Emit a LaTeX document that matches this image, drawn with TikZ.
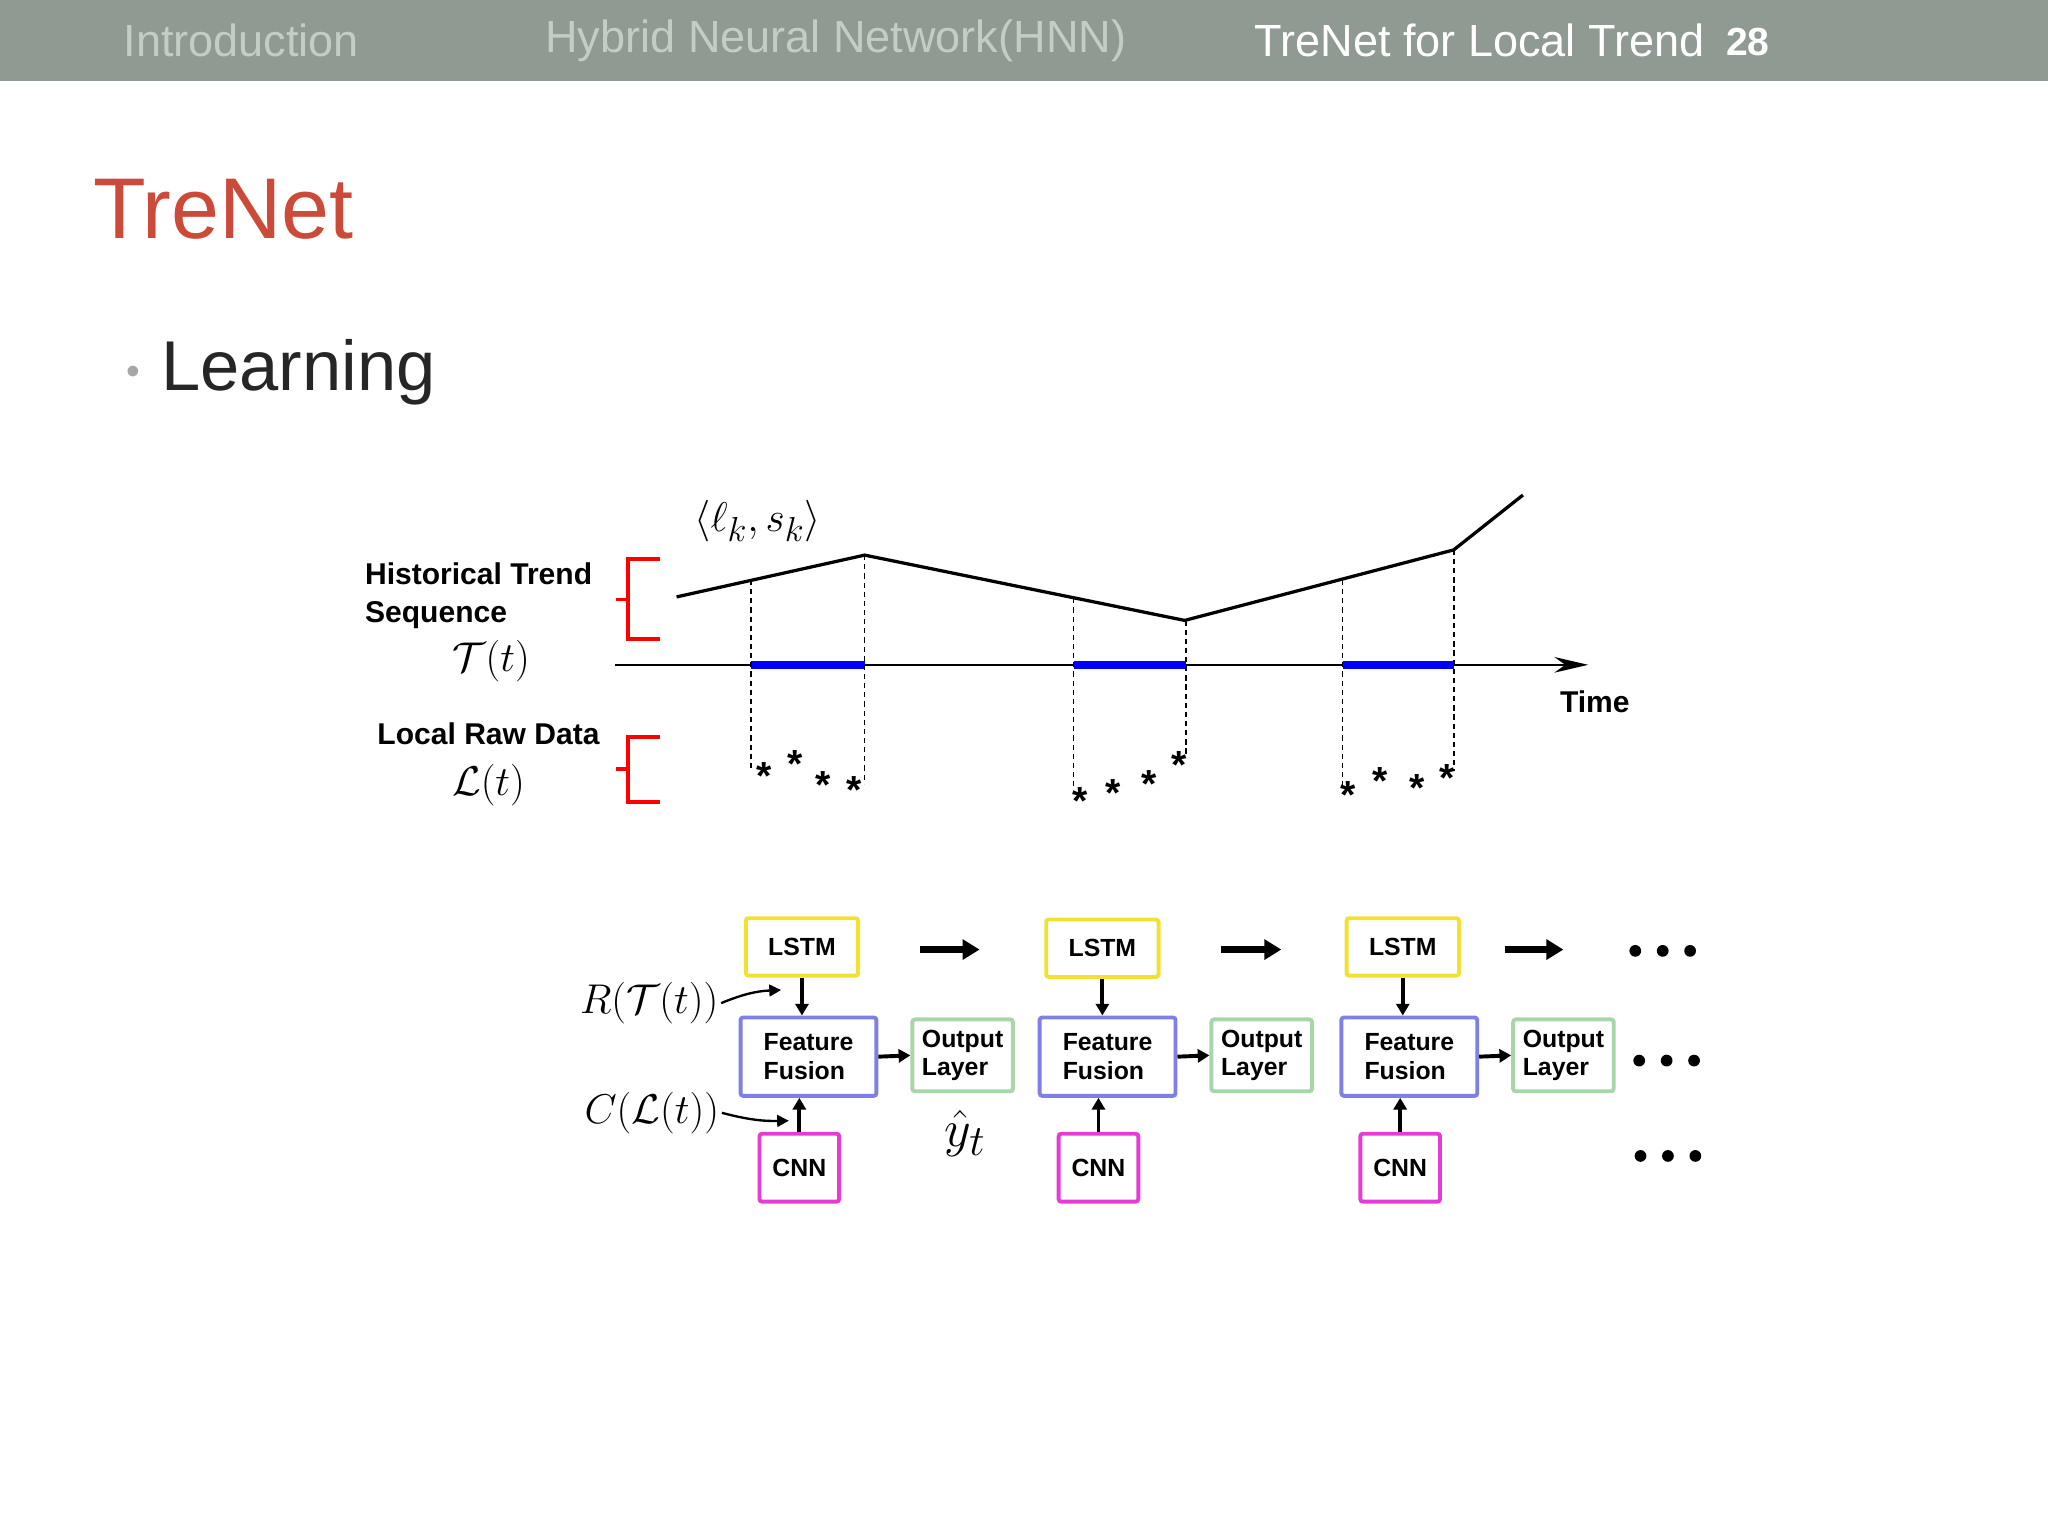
\documentclass[tikz,border=0pt]{standalone}
\usepackage{graphicx}
\usepackage{fontspec}
\setmainfont{Liberation Sans}
\usetikzlibrary{arrows.meta}
\definecolor{hdr}{HTML}{8E9A92}
\definecolor{hdrtxt}{HTML}{C4CCC6}
\definecolor{ttl}{HTML}{CC4A3A}
\definecolor{lstm}{HTML}{F2E033}
\definecolor{ff}{HTML}{7F7FE6}
\definecolor{outl}{HTML}{A9D6A9}
\definecolor{cnn}{HTML}{E63CD6}
\newcommand{\mymath}[2][1.28]{\scalebox{#1}{$#2$}}
\tikzset{
 lbl/.style={font=\fontsize{23}{26}\selectfont\bfseries, align=left},
 bx/.style={draw, line width=3pt, rounded corners=2pt, font=\fontsize{19}{22}\selectfont\bfseries, align=left, inner sep=0pt},
 lstmb/.style={bx, draw=lstm, minimum width=86pt, minimum height=44pt},
 ffb/.style={bx, draw=ff, minimum width=104pt, minimum height=60pt},
 outb/.style={bx, draw=outl, minimum width=77pt, minimum height=55pt},
 cnnb/.style={bx, draw=cnn, minimum width=61pt, minimum height=52pt},
 sa/.style={-{Triangle[length=9pt,width=10pt]}, line width=3pt},
 la/.style={-{Triangle[length=9pt,width=9pt]}, line width=1.8pt},
 ba/.style={-{Triangle[length=13pt,width=15pt]}, line width=5pt},
 dsh/.style={line width=1.2pt, dash pattern=on 4pt off 3pt},
 st/.style={font=\fontsize{30}{30}\selectfont\bfseries},
 brk/.style={red, line width=3pt},
 mth/.style={font=\fontsize{24.88}{30}\selectfont, inner sep=2pt},
 dot/.style={circle, fill, inner sep=0pt, minimum size=9pt}
}
\begin{document}
\begin{tikzpicture}[x=1pt,y=-1pt]
\useasboundingbox (0,0) rectangle (1568,1176);
\fill[hdr] (0,0) rectangle (1568,62);
\node[text=hdrtxt, font=\fontsize{34.5}{36}\selectfont, anchor=west] (h1) at (91,31) {Introduction};
\node[text=hdrtxt, font=\fontsize{34.5}{36}\selectfont, anchor=west] (h2) at (414,31) {Hybrid Neural Network(HNN)};
\node[text=white, font=\fontsize{34.5}{36}\selectfont, anchor=west] (h3) at (957,31) {TreNet for Local Trend};
\node[text=white, font=\fontsize{30}{32}\selectfont\bfseries, anchor=west] (h4) at (1318,32) {28};
\node[text=ttl, font=\fontsize{66}{70}\selectfont, anchor=west] (title) at (68,160) {TreNet};
\node[text=gray!70, font=\fontsize{30}{30}\selectfont] (bul) at (102,287) {•};
\node[text=black!85, font=\fontsize{54}{56}\selectfont, anchor=west] (learn) at (120,285) {Learning};

% trend line
\coordinate (p0) at (518,457); \coordinate (p1) at (662,425); \coordinate (p2) at (907,475);
\coordinate (p3) at (1113,421); \coordinate (p4) at (1166,379);
\draw[line width=2.5pt] (p0)--(p1)--(p2)--(p3)--(p4);
\coordinate (a0) at (471,509); \coordinate (a1) at (1216,509);
\draw[-{Stealth[length=26pt,width=12pt]}, line width=1.2pt] (a0)--(a1);
\foreach \a/\b in {575/662,822/908,1028/1113}
  \draw[blue, line width=6pt] (\a,509)--(\b,509);
\draw[dsh] (575,444)--(575,590);
\draw[dsh] (662,425)--(662,600);
\draw[dsh] (822,458)--(822,605);
\draw[dsh] (908,475)--(908,580);
\draw[dsh] (1028,444)--(1028,603);
\draw[dsh] (1113,421)--(1113,590);
\foreach \x/\y in {585/587,609/578,630/594,654/598,827/606,852/600,880/593,903/579,1032/602,1057/591,1085/596,1108/589}
  \node[st] at (\x,\y+7) {*};
% brackets
\draw[brk] (505,428)--(481,428)--(481,489)--(505,489); \draw[brk] (481,459)--(472,459);
\draw[brk] (505,564)--(481,564)--(481,614)--(505,614); \draw[brk] (481,589)--(472,589);
\node[lbl, anchor=west] (hist) at (276,456) {Historical Trend\\[3pt]Sequence};
\node[mth] (tt) at (376,506) {\mymath{\mathcal{T}(t)}};
\node[lbl] (lrd) at (374,562) {Local Raw Data};
\node[mth] (lt) at (374,601) {\mymath{\mathcal{L}(t)}};
\node[mth] (lk) at (580,399) {\mymath{\langle \ell_k, s_k\rangle}};
\node[lbl] (time) at (1221,537) {Time};

% network
\foreach \i/\lx/\ly/\fx/\ox/\cx in {1/614/725/619/737/612, 2/844/726/848/966/841, 3/1074/725/1079/1197/1072}{
  \node[lstmb] (L\i) at (\lx,\ly) {LSTM};
  \node[ffb] (F\i) at (\fx,809) {Feature\\Fusion};
  \node[outb] (O\i) at (\ox,808) {Output\\Layer};
  \node[cnnb] (C\i) at (\cx,894) {CNN};
  \draw[sa] (L\i.south) -- (L\i.south |- F\i.north);
  \draw[sa] (C\i.north) -- (C\i.north |- F\i.south);
  \draw[sa] (F\i.east) -- (O\i.west);
}
\foreach \a/\b in {704/750,935/981,1152/1197}{
  \coordinate (s\a) at (\a,727); \coordinate (e\a) at (\b,727);
  \draw[ba] (s\a)--(e\a);}
\foreach \n/\x/\y in {d1/1252/728,d2/1255/812,d3/1256/885}{
  \node[dot] (\n a) at (\x,\y) {};
  \node[dot] (\n b) at (\x+21,\y) {};
  \node[dot] (\n c) at (\x+42,\y) {};}
\node[mth] (R) at (497,768) {\mymath{R(\mathcal{T}(t))}};
\node[mth] (Cl) at (499,852) {\mymath{C(\mathcal{L}(t))}};
\coordinate (rt) at (598,758); \coordinate (ct) at (604,858);
\draw[la] (R.east) to[bend left=10] (rt);
\draw[la] (Cl.east) to[bend right=8] (ct);
\node[mth] (yh) at (739,868) {\mymath[1.6]{\hat{y}_t}};
\end{tikzpicture}
\end{document}
